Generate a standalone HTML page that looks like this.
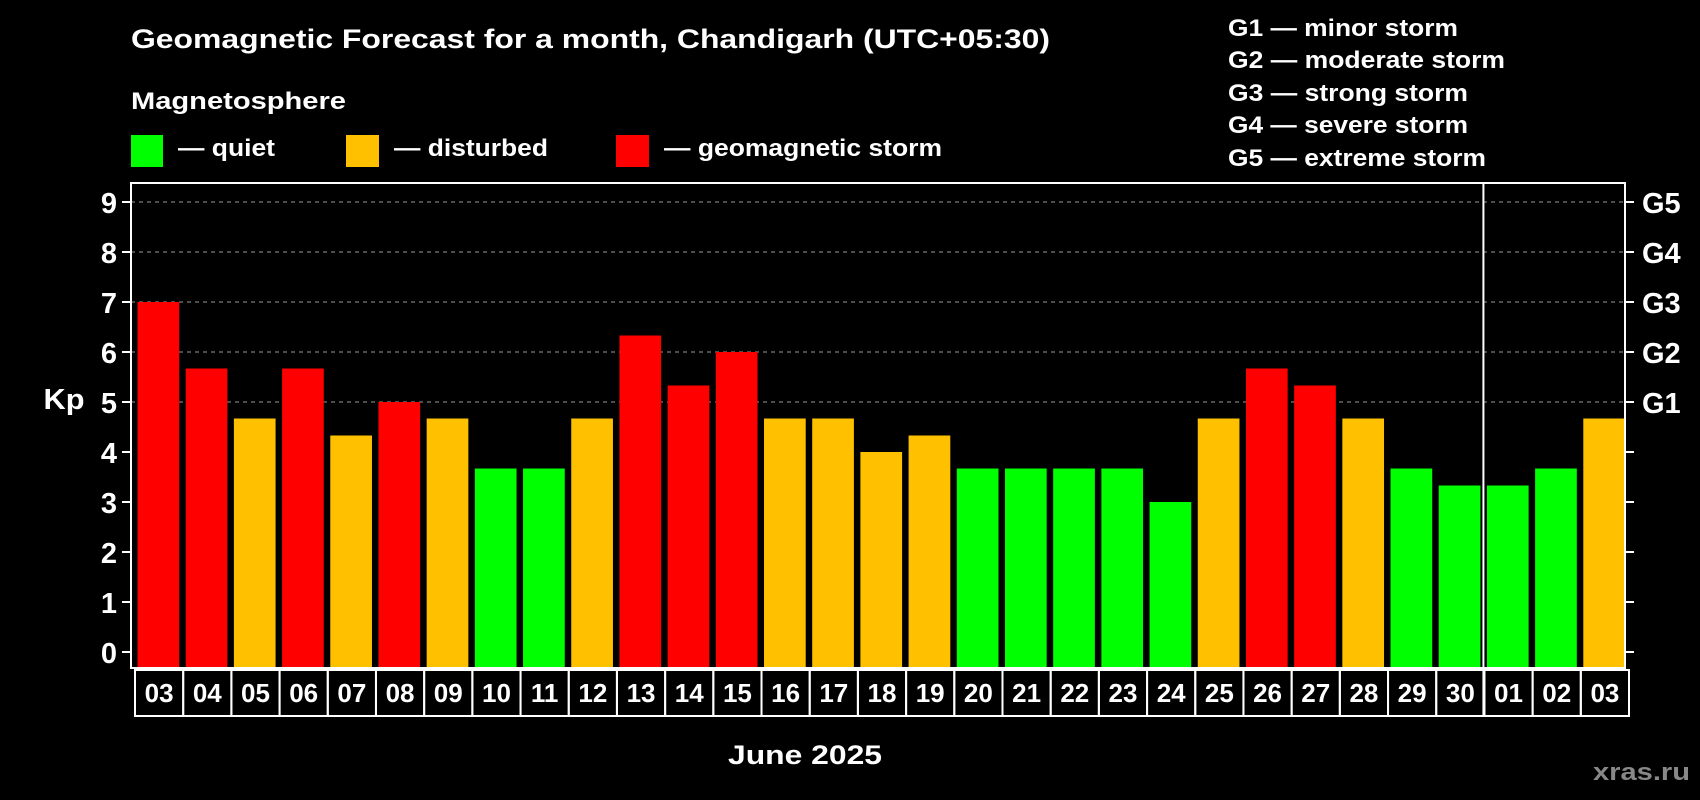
<!DOCTYPE html>
<html><head><meta charset="utf-8"><style>
html,body{margin:0;padding:0;background:#000;}
svg{display:block;font-family:"Liberation Sans",Arial,sans-serif;font-weight:bold;}
</style></head><body>
<svg id="chart" width="1700" height="800" viewBox="0 0 1700 800">
<rect width="1700" height="800" fill="#000"/>
<text x="131" y="48" fill="#fff" font-size="27" textLength="919" lengthAdjust="spacingAndGlyphs">Geomagnetic Forecast for a month, Chandigarh (UTC+05:30)</text>
<text x="131" y="109" fill="#fff" font-size="24" textLength="215" lengthAdjust="spacingAndGlyphs">Magnetosphere</text>
<g>
<rect x="131" y="135" width="32" height="32" fill="#00ff00"/>
<text x="178" y="156" fill="#fff" font-size="24" textLength="97" lengthAdjust="spacingAndGlyphs">— quiet</text></g>
<g>
<rect x="346" y="135" width="33" height="32" fill="#ffc000"/>
<text x="394" y="156" fill="#fff" font-size="24" textLength="154" lengthAdjust="spacingAndGlyphs">— disturbed</text></g>
<g>
<rect x="616" y="135" width="33" height="32" fill="#ff0000"/>
<text x="664" y="156" fill="#fff" font-size="24" textLength="278" lengthAdjust="spacingAndGlyphs">— geomagnetic storm</text></g>
<g fill="#fff" font-size="24">
<text x="1228" y="36" textLength="230" lengthAdjust="spacingAndGlyphs">G1 — minor storm</text>
<text x="1228" y="68" textLength="277" lengthAdjust="spacingAndGlyphs">G2 — moderate storm</text>
<text x="1228" y="101" textLength="240" lengthAdjust="spacingAndGlyphs">G3 — strong storm</text>
<text x="1228" y="133" textLength="240" lengthAdjust="spacingAndGlyphs">G4 — severe storm</text>
<text x="1228" y="166" textLength="258" lengthAdjust="spacingAndGlyphs">G5 — extreme storm</text>
</g>
<g id="grid"></g><g id="bars"></g><g id="axes"></g>
<text x="64" y="409" fill="#fff" font-size="29" text-anchor="middle" textLength="41" lengthAdjust="spacingAndGlyphs">Kp</text>
<text x="805" y="764" fill="#fff" font-size="27" text-anchor="middle" textLength="154" lengthAdjust="spacingAndGlyphs">June 2025</text>
<text x="1690" y="780" fill="#888" font-size="24" text-anchor="end" textLength="97" lengthAdjust="spacingAndGlyphs">xras.ru</text>
</svg>
<script>
const categories = ["03","04","05","06","07","08","09","10","11","12","13","14","15","16","17","18","19","20","21","22","23","24","25","26","27","28","29","30","01","02","03"];
const kpValues = [7,5.67,4.67,5.67,4.33,5,4.67,3.67,3.67,4.67,6.33,5.33,6,4.67,4.67,4,4.33,3.67,3.67,3.67,3.67,3,4.67,5.67,5.33,4.67,3.67,3.33,3.33,3.67,4.67];
const yTicks = [0,1,2,3,4,5,6,7,8,9];
const gLabels = ["G1","G2","G3","G4","G5"];
const gLevels = [5,6,7,8,9];
const separatorIndex = 28;

const NS = "http://www.w3.org/2000/svg";
const L = 131, R = 1625, T = 183, B = 668;
const y0 = 652, unit = 50;
const slot = (R - L) / categories.length;
function yScale(v) { return y0 - v * unit; }
function xScale(i) { return L + i * slot; }
function color(v) { return v >= 5 ? "#ff0000" : (v >= 4 ? "#ffc000" : "#00ff00"); }
function mk(tag, attrs, parent) {
  const e = document.createElementNS(NS, tag);
  for (const k in attrs) e.setAttribute(k, attrs[k]);
  parent.appendChild(e); return e;
}
const grid = document.getElementById("grid"), bars = document.getElementById("bars"), axes = document.getElementById("axes");
gLevels.forEach(function (lv) {
  const ln = mk("line", {x1: L, x2: R, y1: yScale(lv), y2: yScale(lv), stroke: "#999", "stroke-dasharray": "4,4", "stroke-width": 1}, grid);
  
  
});
kpValues.forEach(function (v, i) {
  const r = mk("rect", {x: xScale(i) + 6.5, y: yScale(v), width: slot - 6.5, height: B - yScale(v), fill: color(v)}, bars);
  
  
  const cell = mk("rect", {x: xScale(i) + 4, y: B + 2, width: slot, height: 46, fill: "none", stroke: "#fff", "stroke-width": 2}, axes);
  
  
  const t = mk("text", {x: xScale(i) + 4 + slot / 2, y: B + 34, fill: "#fff", "font-size": 26, "text-anchor": "middle"}, axes);
  t.textContent = categories[i];
  
  
});
const frame = mk("rect", {x: L, y: T, width: R - L, height: B - T, fill: "none", stroke: "#fff", "stroke-width": 2}, axes);


const sep = mk("line", {x1: xScale(separatorIndex) + 3, x2: xScale(separatorIndex) + 3, y1: T, y2: B + 48, stroke: "#fff", "stroke-width": 2}, axes);


yTicks.forEach(function (v) {
  const tk = mk("line", {x1: L - 9, x2: L, y1: yScale(v), y2: yScale(v), stroke: "#fff", "stroke-width": 2}, axes);
  
  
  const tr = mk("line", {x1: R, x2: R + 9, y1: yScale(v), y2: yScale(v), stroke: "#fff", "stroke-width": 2}, axes);
  
  
  const t = mk("text", {x: 117, y: yScale(v) + 11, fill: "#fff", "font-size": 29, "text-anchor": "end"}, axes);
  t.textContent = v;
  
  
});
gLabels.forEach(function (g, i) {
  const t = mk("text", {x: 1642, y: yScale(gLevels[i]) + 11, fill: "#fff", "font-size": 29}, axes);
  t.textContent = g;
  
  
});
</script>
</body></html>
